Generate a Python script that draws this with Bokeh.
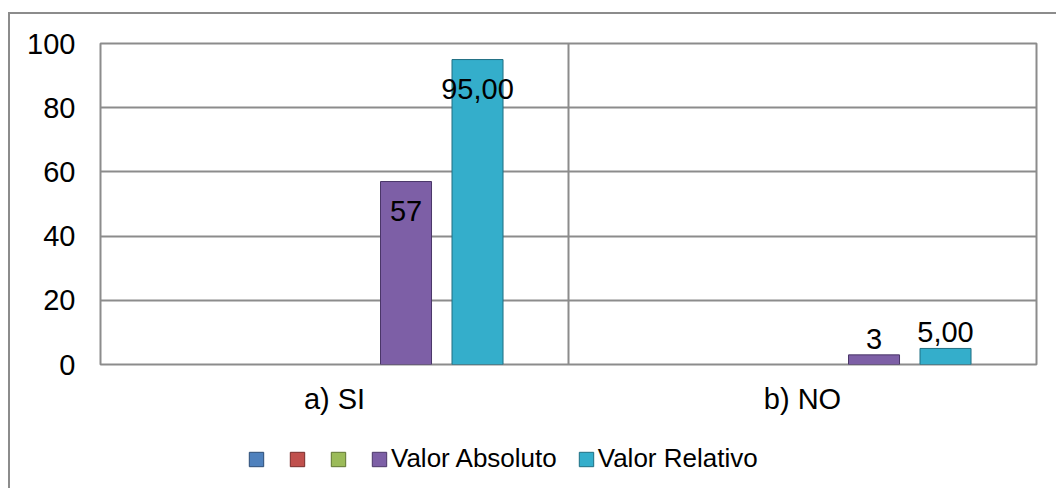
from bokeh.plotting import figure
from bokeh.models import (ColumnDataSource, FactorRange, Legend, LegendItem, Span,
                          FixedTicker)
from bokeh.layouts import column
from bokeh.transform import dodge
from bokeh.core.properties import value
from bokeh.embed import file_html
from bokeh.resources import INLINE

# ---- data ----
categories = ["a) SI", "b) NO"]
series_names = ["", "", "", "Valor Absoluto", "Valor Relativo"]
serie1 = [float("nan"), float("nan")]
serie2 = [float("nan"), float("nan")]
serie3 = [float("nan"), float("nan")]
valor_absoluto = [57, 3]
valor_relativo = [95.00, 5.00]
label_absoluto = ["57", "3"]
label_relativo = ["95,00", "5,00"]
y_ticks = [0, 20, 40, 60, 80, 100]

series_values = [serie1, serie2, serie3, valor_absoluto, valor_relativo]
series_labels = [None, None, None, label_absoluto, label_relativo]
fill_colors = ["#4F81BD", "#C0504D", "#9BBB59", "#7D5FA6", "#34AECB"]
line_colors = ["#2C4D75", "#772C2A", "#5F7530", "#4A3668", "#1F6E82"]

FONT = "Liberation Sans"
FS = "29px"
W = 1046
H1 = 410
H2 = 64

p = figure(x_range=FactorRange(*categories, range_padding=0), y_range=(0, 100),
           width=W, height=H1, output_backend="svg", toolbar_location=None)
p.min_border_left = 90
p.min_border_top = 29
p.min_border_right = 20
p.min_border_bottom = H1 - 29 - 321
p.background_fill_color = "white"
p.border_fill_color = "white"
p.outline_line_color = "#8c8c8c"
p.outline_line_width = 2

n = len(series_names)
step = 0.1528
width = 0.109
for i in range(n):
    src = ColumnDataSource(dict(cat=categories, top=series_values[i]))
    off = (i - (n - 1) / 2) * step
    p.vbar(x=dodge("cat", off, range=p.x_range), top="top", width=width,
           source=src, fill_color=fill_colors[i], line_color=line_colors[i],
           line_width=1)
    if series_labels[i] is not None:
        vals = series_values[i]
        inside = [v > 20 for v in vals]
        ysrc = ColumnDataSource(dict(
            cat=[c for c, k in zip(categories, inside) if k],
            y=[v for v, k in zip(vals, inside) if k],
            t=[t for t, k in zip(series_labels[i], inside) if k]))
        osrc = ColumnDataSource(dict(
            cat=[c for c, k in zip(categories, inside) if not k],
            y=[v for v, k in zip(vals, inside) if not k],
            t=[t for t, k in zip(series_labels[i], inside) if not k]))
        p.text(x=dodge("cat", off, range=p.x_range), y="y", text="t", source=ysrc,
               text_align="center", text_baseline="middle", y_offset=29,
               text_font=value(FONT), text_font_size=FS, text_color="black")
        p.text(x=dodge("cat", off, range=p.x_range), y="y", text="t", source=osrc,
               text_align="center", text_baseline="bottom", y_offset=-6,
               text_font=value(FONT), text_font_size=FS, text_color="black")

# grid
p.xgrid.visible = False
p.ygrid.ticker = FixedTicker(ticks=y_ticks)
p.ygrid.grid_line_color = "#8c8c8c"
p.ygrid.grid_line_width = 2
for b in range(1, len(categories)):
    p.add_layout(Span(location=b, dimension="height", line_color="#8c8c8c", line_width=2))

# axes
p.yaxis.ticker = FixedTicker(ticks=y_ticks)
p.yaxis.axis_line_color = None
p.yaxis.major_tick_line_color = None
p.yaxis.minor_tick_line_color = None
p.yaxis.major_label_standoff = 19
p.yaxis.major_label_text_font = FONT
p.yaxis.major_label_text_font_size = FS
p.yaxis.major_label_text_color = "black"

p.xaxis.axis_line_color = None
p.xaxis.major_tick_line_color = None
p.xaxis.minor_tick_line_color = None
p.xaxis.major_label_standoff = 12
p.xaxis.major_label_text_font = FONT
p.xaxis.major_label_text_font_size = FS
p.xaxis.major_label_text_color = "black"

# ---- legend strip ----
q = figure(x_range=FactorRange(*categories, range_padding=0), y_range=(1000, 1001),
           width=W, height=H2, output_backend="svg", toolbar_location=None,
           x_axis_location=None, y_axis_location=None, min_border=0)
q.grid.visible = False
q.outline_line_color = None
q.border_fill_color = "white"
legend_renderers = []
for i in range(n):
    src = ColumnDataSource(dict(cat=categories, top=series_values[i]))
    r = q.vbar(x="cat", top="top", width=width, source=src,
               fill_color=fill_colors[i], line_color=line_colors[i], line_width=1)
    legend_renderers.append(r)

legend = Legend(items=[LegendItem(label=series_names[i], renderers=[legend_renderers[i]]) for i in range(n)],
                orientation="horizontal", location=(147, 14),
                glyph_width=18, glyph_height=18, label_standoff=3, spacing=20,
                padding=0, margin=0, border_line_color=None, background_fill_alpha=0,
                label_text_font=FONT, label_text_font_size="26px",
                label_text_color="black", label_height=18, label_width=0)
q.add_layout(legend, "center")

layout = column(p, q, spacing=0)
layout.styles = {"margin-left": "8px", "margin-top": "12px",
                 "border-left": "2px solid #8c8c8c", "border-top": "2px solid #8c8c8c",
                 "background-color": "white"}

open("out.html", "w").write(file_html(layout, INLINE))
